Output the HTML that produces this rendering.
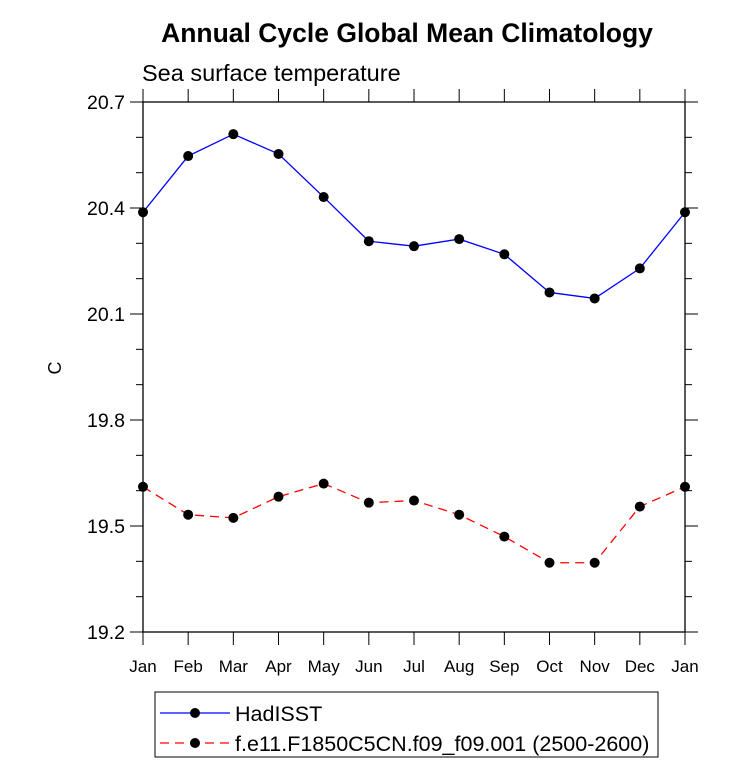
<!DOCTYPE html>
<html><head><meta charset="utf-8"><style>
body{margin:0;background:#fff;}
text{font-family:"Liberation Sans",Arial,sans-serif;}
</style></head><body>
<svg width="733" height="769" id="svg" xmlns="http://www.w3.org/2000/svg">
<text x="407" y="42" text-anchor="middle" font-size="26.5" font-weight="bold">Annual Cycle Global Mean Climatology</text>
<text x="142" y="81" font-size="23.5">Sea surface temperature</text>
<text x="0" y="0" transform="translate(61,368) rotate(-90)" text-anchor="middle" font-size="18">C</text>
<g id="axes"></g>
<g id="series"></g>
<rect x="155" y="692" width="503" height="65" fill="none" stroke="#000" stroke-width="1"/>
<g>
<line x1="160" y1="713" x2="230" y2="713" stroke="#0000ff" stroke-width="1.3"/>
<circle cx="195" cy="713" r="5" fill="#000"/>
<text x="235" y="721" font-size="21.5">HadISST</text></g>
<g>
<line x1="160" y1="743" x2="230" y2="743" stroke="#ff0000" stroke-width="1.3" stroke-dasharray="9,6"/>
<circle cx="195" cy="743" r="5" fill="#000"/>
<text x="235" y="751" font-size="21.5">f.e11.F1850C5CN.f09_f09.001 (2500-2600)</text></g>
</svg>
<script>
const months=["Jan","Feb","Mar","Apr","May","Jun","Jul","Aug","Sep","Oct","Nov","Dec","Jan"];
const hadisst=[20.388,20.547,20.609,20.553,20.431,20.306,20.292,20.312,20.269,20.161,20.144,20.229,20.388];
const model=[19.611,19.532,19.523,19.583,19.620,19.566,19.572,19.532,19.470,19.396,19.396,19.555,19.611];
const yTicks=["19.2","19.5","19.8","20.1","20.4","20.7"];
const L=143,R=685,T=102,B=632,ymin=19.2,ymax=20.7;
const ns="http://www.w3.org/2000/svg";
const X=i=>L+(R-L)*i/12;
const Y=v=>B-(v-ymin)/(ymax-ymin)*(B-T);
function mk(tag,attrs,parent){const e=document.createElementNS(ns,tag);for(const k in attrs)e.setAttribute(k,attrs[k]);parent.appendChild(e);return e;}
const ax=document.getElementById('axes'),se=document.getElementById('series');
const fr=mk('rect',{x:L,y:T,width:R-L,height:B-T,fill:'none',stroke:'#000','stroke-width':1.3},ax);


months.forEach((m,i)=>{const x=X(i);
mk('line',{x1:x,y1:B,x2:x,y2:B+13,stroke:'#000'},ax);
mk('line',{x1:x,y1:T,x2:x,y2:T-13,stroke:'#000'},ax);
const t=mk('text',{x:x,y:B+40,'text-anchor':'middle','font-size':17},ax);t.textContent=m;

});
for(let v=ymin;v<=ymax+1e-6;v+=0.1){const y=Y(v);const maj=Math.abs(Math.round(v*10)%3)<0.5;const len=maj?13:7;
mk('line',{x1:L,y1:y,x2:L-len,y2:y,stroke:'#000'},ax);
mk('line',{x1:R,y1:y,x2:R+len,y2:y,stroke:'#000'},ax);}
yTicks.forEach(s=>{const t=mk('text',{x:L-18,y:Y(+s)+7,'text-anchor':'end','font-size':19.5},ax);t.textContent=s;

});
function series(vals,color,dash,name){
const p=mk('polyline',{points:vals.map((v,i)=>X(i)+','+Y(v)).join(' '),fill:'none',stroke:color,'stroke-width':1.3},se);
if(dash)p.setAttribute('stroke-dasharray',dash);


vals.forEach((v,i)=>{const c=mk('circle',{cx:X(i),cy:Y(v),r:5,fill:'#000'},se);

});}
series(hadisst,'#0000ff',null,'hadisst');
series(model,'#ff0000','9,6','model');
</script>
</body></html>
